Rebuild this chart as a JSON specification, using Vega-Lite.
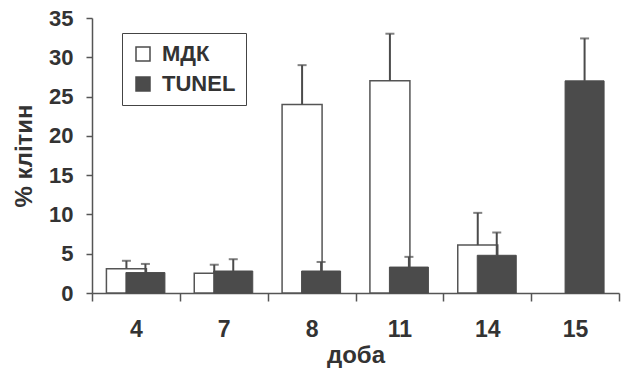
{
  "$schema": "https://vega.github.io/schema/vega-lite/v6.json",
  "width": 527,
  "height": 275,
  "autosize": {"type": "none"},
  "padding": {"left": 92, "top": 18, "right": 10, "bottom": 78},
  "background": "white",
  "config": {
    "view": {"stroke": null},
    "font": "Liberation Sans",
    "axis": {"labelFont": "Liberation Sans", "titleFont": "Liberation Sans", "labelFontWeight": "bold", "titleFontWeight": "bold", "labelColor": "#333333", "titleColor": "#333333", "domainColor": "#555", "tickColor": "#555", "domainWidth": 1.5, "tickWidth": 1.5, "grid": false},
    "axisY": {"values": [0, 5, 10, 15, 20, 25, 30, 35], "labelFontSize": 22, "titleFontSize": 24, "tickSize": 6, "labelPadding": 13, "titlePadding": 12, "labelOverlap": false}
  },
  "data": {
    "values": [
      {"day": "4", "series": "МДК", "value": 3.1, "hi": 4.1},
      {"day": "7", "series": "МДК", "value": 2.5, "hi": 3.6},
      {"day": "8", "series": "МДК", "value": 24.0, "hi": 29.0},
      {"day": "11", "series": "МДК", "value": 27.0, "hi": 33.0},
      {"day": "14", "series": "МДК", "value": 6.1, "hi": 10.2},
      {"day": "4", "series": "TUNEL", "value": 2.6, "hi": 3.7},
      {"day": "7", "series": "TUNEL", "value": 2.8, "hi": 4.3},
      {"day": "8", "series": "TUNEL", "value": 2.8, "hi": 3.95},
      {"day": "11", "series": "TUNEL", "value": 3.3, "hi": 4.6},
      {"day": "14", "series": "TUNEL", "value": 4.8, "hi": 7.7},
      {"day": "15", "series": "TUNEL", "value": 27.0, "hi": 32.4}
    ]
  },
  "encoding": {
    "x": {
      "field": "day", "type": "nominal", "sort": ["4", "7", "8", "11", "14", "15"],
      "scale": {"domain": ["4", "7", "8", "11", "14", "15"], "paddingInner": 0, "paddingOuter": 0},
      "axis": {"title": "доба", "labelAngle": 0, "labelFontSize": 23, "titleFontSize": 24, "tickBand": "extent", "tickSize": 8, "labelPadding": 17, "titlePadding": 2}
    }
  },
  "layer": [
    {
      "transform": [{"filter": "datum.series === 'МДК'"}],
      "mark": {"type": "bar", "width": 40, "xOffset": -9.5, "stroke": "#555", "strokeWidth": 1.5},
      "encoding": {
        "y": {"field": "value", "type": "quantitative", "scale": {"domain": [0, 35]}, "title": "% клітин"},
        "fill": {"field": "series", "type": "nominal", "scale": {"domain": ["МДК", "TUNEL"], "range": ["white", "#4b4b4b"]},
          "legend": {"title": null, "orient": "none", "legendX": 30, "legendY": 15, "direction": "vertical", "symbolType": "square", "symbolSize": 196, "symbolStrokeColor": "#333", "symbolStrokeWidth": 1.5, "labelFontSize": 22, "labelFontWeight": "bold", "labelColor": "#333", "labelFont": "Liberation Sans", "rowPadding": 8, "padding": 10, "strokeColor": "#444", "fillColor": "white", "symbolOffset": 0, "labelOffset": 8}}
      }
    },
    {
      "transform": [{"filter": "datum.series === 'МДК'"}],
      "mark": {"type": "rule", "xOffset": -9.5, "color": "#4b4b4b", "strokeWidth": 2},
      "encoding": {"y": {"field": "value", "type": "quantitative", "title": "% клітин"}, "y2": {"field": "hi"}}
    },
    {
      "transform": [{"filter": "datum.series === 'МДК'"}],
      "mark": {"type": "tick", "xOffset": -9.5, "color": "#4b4b4b", "size": 9, "thickness": 2, "orient": "horizontal"},
      "encoding": {"y": {"field": "hi", "type": "quantitative", "title": "% клітин"}}
    },
    {
      "transform": [{"filter": "datum.series === 'TUNEL'"}],
      "mark": {"type": "bar", "width": 39, "xOffset": 9.5, "stroke": "#4b4b4b", "strokeWidth": 1},
      "encoding": {
        "y": {"field": "value", "type": "quantitative", "title": "% клітин"},
        "fill": {"field": "series", "type": "nominal"}
      }
    },
    {
      "transform": [{"filter": "datum.series === 'TUNEL'"}],
      "mark": {"type": "rule", "xOffset": 9.5, "color": "#4b4b4b", "strokeWidth": 2},
      "encoding": {"y": {"field": "value", "type": "quantitative", "title": "% клітин"}, "y2": {"field": "hi"}}
    },
    {
      "transform": [{"filter": "datum.series === 'TUNEL'"}],
      "mark": {"type": "tick", "xOffset": 9.5, "color": "#4b4b4b", "size": 9, "thickness": 2, "orient": "horizontal"},
      "encoding": {"y": {"field": "hi", "type": "quantitative", "title": "% клітин"}}
    }
  ]
}
